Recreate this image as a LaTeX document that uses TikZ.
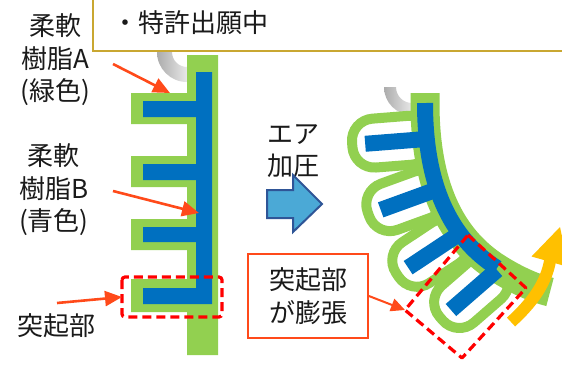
\documentclass[tikz,border=0pt]{standalone}
\usepackage{fontspec}
\setmainfont{Noto Sans CJK JP}
\usetikzlibrary{arrows.meta,calc}
\definecolor{resinA}{HTML}{92D050}
\definecolor{resinB}{HTML}{0070C0}
\definecolor{leader}{HTML}{FF4A1A}
\definecolor{goldline}{HTML}{C9A731}
\definecolor{airfill}{HTML}{4BA9D6}
\definecolor{airline}{HTML}{2F5597}
\definecolor{bendarrow}{HTML}{FFC000}
\definecolor{ink}{HTML}{1A1A1A}
\begin{document}
\begin{tikzpicture}[x=1pt,y=-1pt,
  lbl/.style={font=\fontsize{26}{32.5}\selectfont, text=ink, align=center, inner sep=0pt},
  leadarrow/.style={draw=leader, line width=2.6pt, -{Triangle[length=17pt,width=15pt]}},
  regionbox/.style={draw=red, line width=3.2pt, dash pattern=on 9pt off 5pt},
  balloon/.style={draw=resinA, line width=10pt, rounded corners=22pt},
  tube/.style={left color=gray!65, right color=gray!18, draw=none}
]
\useasboundingbox (0,0) rectangle (562,368);
\clip (0,0) rectangle (562,368);
\fill[white] (0,0) rectangle (562,368);

% ---------- flat actuator (before pressurising) ----------
\shade[tube] (187,52) ++(180:30) arc (180:90:30) -- (187,67) arc (90:180:15) -- cycle;
\fill[resinA] (187,55) -- (218,55) -- (218,355) -- (187,355) -- (187,312) -- (131,312)
  -- (131,279) -- (187,279) -- (187,250) -- (131,250) -- (131,219) -- (187,219)
  -- (187,187) -- (131,187) -- (131,156) -- (187,156) -- (187,124) -- (131,124)
  -- (131,93) -- (187,93) -- cycle;
\fill[resinB] (196,72) -- (212,72) -- (212,304) -- (143,304) -- (143,288) -- (196,288)
  -- (196,242) -- (143,242) -- (143,227) -- (196,227) -- (196,180) -- (143,180)
  -- (143,164) -- (196,164) -- (196,117) -- (143,117) -- (143,101) -- (196,101) -- cycle;
\coordinate (tipA) at (170,93);
\coordinate (tipB) at (199,213);
\coordinate (tipT) at (122,297);
\draw[regionbox, rounded corners=3pt] (122,277) rectangle (222,317);

% ---------- info box ----------
\node[draw=goldline, line width=2pt, fill=white, minimum width=490pt, minimum height=66pt,
  inner sep=0pt] (info) at (338,18) {};
\node[lbl, anchor=west] (patent) at (112,22.5) {・特許出願中};

% ---------- labels ----------
\node[lbl] (labA) at (55,60) {柔軟\\樹脂A\\(緑色)};
\node[lbl] (labB) at (54,190) {柔軟\\樹脂B\\(青色)};
\node[lbl] (labT) at (56,326) {突起部};
\coordinate (tailA) at (113,64);
\coordinate (tailB) at (113,191);
\coordinate (tailT) at (57,303);
\draw[leadarrow] (tailA) -- (tipA);
\draw[leadarrow] (tailB) -- (tipB);
\draw[leadarrow] (tailT) -- (tipT);

% ---------- air pressure arrow ----------
\node[lbl] (air) at (293.5,151) {エア\\加圧};
\draw[airline, fill=airfill, line width=2pt, line join=miter]
  (267,190) -- (293,190) -- (293,175) -- (322,204) -- (293,232) -- (293,218) -- (267,218) -- cycle;

% ---------- bent actuator (after pressurising) ----------
\shade[tube] (412,87) ++(180:28) arc (180:90:28) -- (412,103) arc (90:180:16) -- cycle;
\foreach \sx/\sy/\ang in {426/139/184.5, 438/189/200, 459/234/213.5, 497/270/221}{
  \begin{scope}[shift={(\sx,\sy)}, rotate=\ang]
    \draw[balloon] (-6,-24.5) rectangle (74,24.5);
  \end{scope}
}
\draw[resinA, line width=29pt] (425,93) -- (425,103) .. controls (425,185) and (450,238) .. (497,268)
  .. controls (516,280) and (534,288) .. (550,292);
\draw[resinB, line width=16pt] (425,103) .. controls (425,185) and (450,238) .. (497,268);
\foreach \sx/\sy/\ang in {426/139/184.5, 438/189/200, 459/234/213.5, 497/270/221}{
  \begin{scope}[shift={(\sx,\sy)}, rotate=\ang]
    \draw[resinB, line width=16pt] (0,0) -- (61,0);
  \end{scope}
}
\coordinate (bulgeL) at (405,310);
\draw[regionbox, line join=round] (468,235) -- (526,288) -- (462,358) -- (bulgeL) -- cycle;

% bending direction
\draw[bendarrow, line width=12pt] (511,322) .. controls (533,302) and (546,283) .. (550,261);
\fill[bendarrow] (560,227) -- (568.5,267) -- (531.5,256.5) -- cycle;

% ---------- expansion note ----------
\node[lbl, draw=leader, line width=1.8pt, minimum width=120pt, minimum height=84pt]
  (expand) at (308,296) {突起部\\が膨張};
\draw[leadarrow, line width=2pt, -{Triangle[length=14pt,width=13pt]}] (expand.east) -- (bulgeL);
\end{tikzpicture}
\end{document}
